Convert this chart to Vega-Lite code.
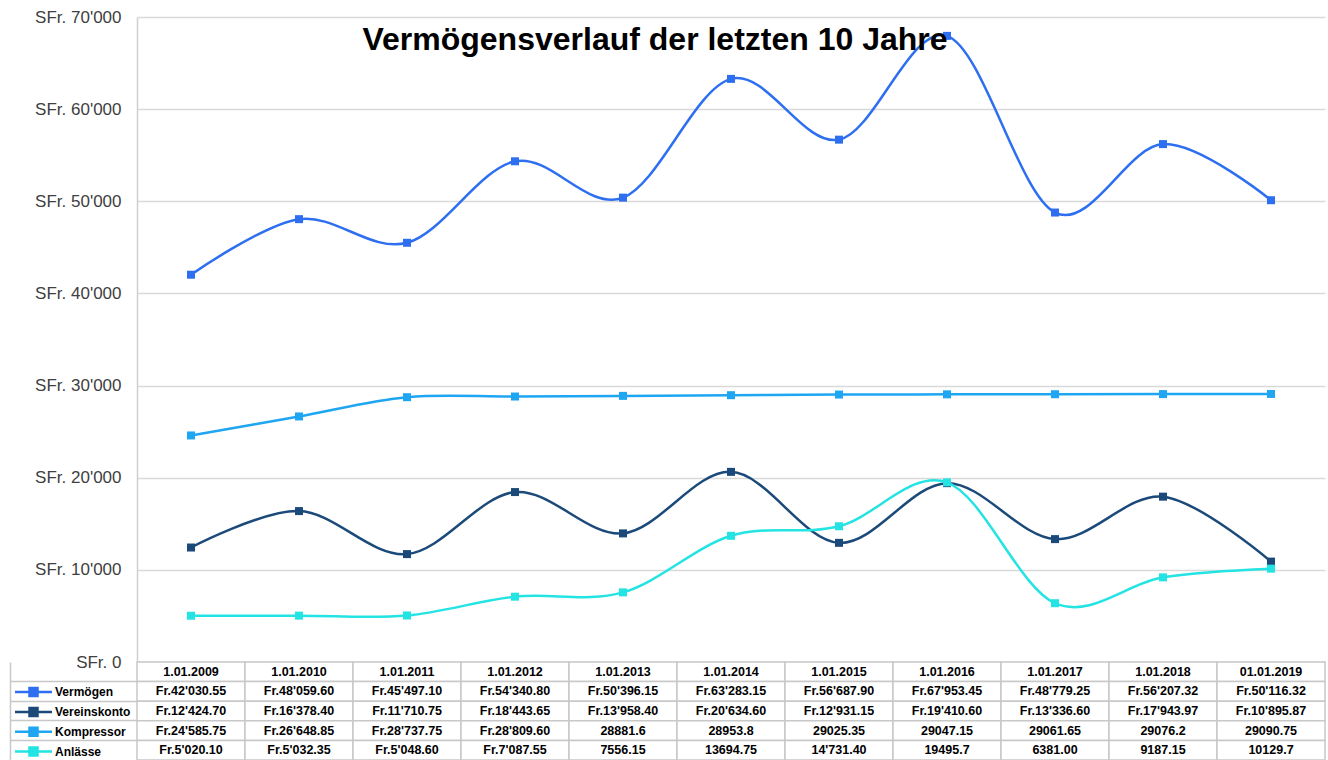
{
  "$schema": "https://vega.github.io/schema/vega-lite/v6.json",
  "padding": {"left": 0, "top": 8, "right": 3, "bottom": 0},
  "spacing": 0,
  "bounds": "flush",
  "config": {
    "font": "Liberation Sans",
    "view": {"stroke": null},
    "locale": {"number": {"decimal": ".", "thousands": "'", "grouping": [3], "currency": ["SFr. ", ""]}}
  },
  "datasets": {
    "d": [
      {"year": "1.01.2009", "series": "Vermögen", "value": 42030.55, "label": "Fr.42'030.55"},
      {"year": "1.01.2010", "series": "Vermögen", "value": 48059.60, "label": "Fr.48'059.60"},
      {"year": "1.01.2011", "series": "Vermögen", "value": 45497.10, "label": "Fr.45'497.10"},
      {"year": "1.01.2012", "series": "Vermögen", "value": 54340.80, "label": "Fr.54'340.80"},
      {"year": "1.01.2013", "series": "Vermögen", "value": 50396.15, "label": "Fr.50'396.15"},
      {"year": "1.01.2014", "series": "Vermögen", "value": 63283.15, "label": "Fr.63'283.15"},
      {"year": "1.01.2015", "series": "Vermögen", "value": 56687.90, "label": "Fr.56'687.90"},
      {"year": "1.01.2016", "series": "Vermögen", "value": 67953.45, "label": "Fr.67'953.45"},
      {"year": "1.01.2017", "series": "Vermögen", "value": 48779.25, "label": "Fr.48'779.25"},
      {"year": "1.01.2018", "series": "Vermögen", "value": 56207.32, "label": "Fr.56'207.32"},
      {"year": "01.01.2019", "series": "Vermögen", "value": 50116.32, "label": "Fr.50'116.32"},
      {"year": "1.01.2009", "series": "Vereinskonto", "value": 12424.70, "label": "Fr.12'424.70"},
      {"year": "1.01.2010", "series": "Vereinskonto", "value": 16378.40, "label": "Fr.16'378.40"},
      {"year": "1.01.2011", "series": "Vereinskonto", "value": 11710.75, "label": "Fr.11'710.75"},
      {"year": "1.01.2012", "series": "Vereinskonto", "value": 18443.65, "label": "Fr.18'443.65"},
      {"year": "1.01.2013", "series": "Vereinskonto", "value": 13958.40, "label": "Fr.13'958.40"},
      {"year": "1.01.2014", "series": "Vereinskonto", "value": 20634.60, "label": "Fr.20'634.60"},
      {"year": "1.01.2015", "series": "Vereinskonto", "value": 12931.15, "label": "Fr.12'931.15"},
      {"year": "1.01.2016", "series": "Vereinskonto", "value": 19410.60, "label": "Fr.19'410.60"},
      {"year": "1.01.2017", "series": "Vereinskonto", "value": 13336.60, "label": "Fr.13'336.60"},
      {"year": "1.01.2018", "series": "Vereinskonto", "value": 17943.97, "label": "Fr.17'943.97"},
      {"year": "01.01.2019", "series": "Vereinskonto", "value": 10895.87, "label": "Fr.10'895.87"},
      {"year": "1.01.2009", "series": "Kompressor", "value": 24585.75, "label": "Fr.24'585.75"},
      {"year": "1.01.2010", "series": "Kompressor", "value": 26648.85, "label": "Fr.26'648.85"},
      {"year": "1.01.2011", "series": "Kompressor", "value": 28737.75, "label": "Fr.28'737.75"},
      {"year": "1.01.2012", "series": "Kompressor", "value": 28809.60, "label": "Fr.28'809.60"},
      {"year": "1.01.2013", "series": "Kompressor", "value": 28881.6, "label": "28881.6"},
      {"year": "1.01.2014", "series": "Kompressor", "value": 28953.8, "label": "28953.8"},
      {"year": "1.01.2015", "series": "Kompressor", "value": 29025.35, "label": "29025.35"},
      {"year": "1.01.2016", "series": "Kompressor", "value": 29047.15, "label": "29047.15"},
      {"year": "1.01.2017", "series": "Kompressor", "value": 29061.65, "label": "29061.65"},
      {"year": "1.01.2018", "series": "Kompressor", "value": 29076.2, "label": "29076.2"},
      {"year": "01.01.2019", "series": "Kompressor", "value": 29090.75, "label": "29090.75"},
      {"year": "1.01.2009", "series": "Anlässe", "value": 5020.10, "label": "Fr.5'020.10"},
      {"year": "1.01.2010", "series": "Anlässe", "value": 5032.35, "label": "Fr.5'032.35"},
      {"year": "1.01.2011", "series": "Anlässe", "value": 5048.60, "label": "Fr.5'048.60"},
      {"year": "1.01.2012", "series": "Anlässe", "value": 7087.55, "label": "Fr.7'087.55"},
      {"year": "1.01.2013", "series": "Anlässe", "value": 7556.15, "label": "7556.15"},
      {"year": "1.01.2014", "series": "Anlässe", "value": 13694.75, "label": "13694.75"},
      {"year": "1.01.2015", "series": "Anlässe", "value": 14731.40, "label": "14'731.40"},
      {"year": "1.01.2016", "series": "Anlässe", "value": 19495.7, "label": "19495.7"},
      {"year": "1.01.2017", "series": "Anlässe", "value": 6381.00, "label": "6381.00"},
      {"year": "1.01.2018", "series": "Anlässe", "value": 9187.15, "label": "9187.15"},
      {"year": "01.01.2019", "series": "Anlässe", "value": 10129.7, "label": "10129.7"}
    ]
  },
  "vconcat": [
    {
      "width": 1188,
      "height": 645,
      "layer": [
        {
          "data": {"name": "d"},
          "encoding": {
            "x": {
              "field": "year",
              "type": "ordinal",
              "scale": {
                "type": "point",
                "padding": 0.5,
                "domain": ["1.01.2009", "1.01.2010", "1.01.2011", "1.01.2012", "1.01.2013", "1.01.2014", "1.01.2015", "1.01.2016", "1.01.2017", "1.01.2018", "01.01.2019"]
              },
              "axis": null
            },
            "y": {
              "field": "value",
              "type": "quantitative",
              "scale": {"domain": [0, 70000], "nice": false},
              "axis": {
                "title": null,
                "values": [0, 10000, 20000, 30000, 40000, 50000, 60000, 70000],
                "format": "$,.0f",
                "labelFontSize": 17,
                "labelFont": "Liberation Sans",
                "labelColor": "#404040",
                "labelPadding": 16,
                "ticks": false,
                "domainColor": "#d0d0d0",
                "domainWidth": 1.5,
                "gridColor": "#d9d9d9",
                "gridWidth": 1.5,
                "minExtent": 137,
                "maxExtent": 137
              }
            },
            "color": {
              "field": "series",
              "type": "nominal",
              "scale": {
                "domain": ["Vermögen", "Vereinskonto", "Kompressor", "Anlässe"],
                "range": ["#2d6ff0", "#1b4a7a", "#1ea6f2", "#24e3e3"]
              },
              "legend": {
                "orient": "none",
                "legendX": -110,
                "legendY": 668.6,
                "title": null,
                "padding": 0,
                "direction": "vertical",
                "symbolType": "M-3.7,0L3.7,0M-0.8,-0.8L0.8,-0.8L0.8,0.8L-0.8,0.8Z",
                "symbolSize": 100,
                "symbolStrokeWidth": 2.5,
                "symbolOpacity": 1,
                "labelOffset": 15,
                "labelFontSize": 12,
                "labelFontWeight": "bold",
                "labelFont": "Liberation Sans",
                "labelColor": "#000000",
                "rowPadding": 0.8,
                "encode": {
                  "symbols": {
                    "update": {
                      "fill": {"scale": "color", "field": "value"},
                      "stroke": {"scale": "color", "field": "value"}
                    }
                  }
                }
              }
            }
          },
          "layer": [
            {"mark": {"type": "line", "interpolate": "cardinal", "strokeWidth": 2.5}},
            {"mark": {"type": "point", "shape": "square", "filled": true, "size": 64, "opacity": 1}}
          ]
        },
        {
          "data": {"values": [{"title": "Vermögensverlauf der letzten 10 Jahre"}]},
          "mark": {"type": "text", "fontSize": 32, "fontWeight": "bold", "font": "Liberation Sans", "color": "#000000", "align": "center", "baseline": "alphabetic", "dx": -76},
          "encoding": {
            "x": {"datum": "1.01.2014", "type": "ordinal"},
            "y": {"datum": 66400, "type": "quantitative"},
            "text": {"field": "title", "type": "nominal"}
          }
        }
      ]
    },
    {
      "width": 1188,
      "height": 98,
      "data": {"name": "d"},
      "encoding": {
        "x": {
          "field": "year",
          "type": "ordinal",
          "scale": {
            "type": "band",
            "paddingInner": 0,
            "paddingOuter": 0,
            "domain": ["1.01.2009", "1.01.2010", "1.01.2011", "1.01.2012", "1.01.2013", "1.01.2014", "1.01.2015", "1.01.2016", "1.01.2017", "1.01.2018", "01.01.2019"]
          },
          "axis": null
        }
      },
      "layer": [
        {
          "transform": [{"filter": "datum.series === 'Vermögen'"}],
          "mark": {"type": "rect", "fill": "#ffffff", "stroke": "#c8c8c8", "strokeWidth": 1.5},
          "encoding": {
            "y": {
              "datum": "hdr",
              "type": "nominal",
              "scale": {"domain": ["hdr", "Vermögen", "Vereinskonto", "Kompressor", "Anlässe"], "paddingInner": 0, "paddingOuter": 0},
              "axis": {"title": null, "labels": false, "domain": true, "domainColor": "#c8c8c8", "domainWidth": 1.5, "offset": 127, "grid": false, "tickSize": -127, "tickWidth": 1.5, "bandPosition": 0, "minExtent": 0, "maxExtent": 0, "tickColor": {"condition": {"test": "datum.value === 'hdr'", "value": "transparent"}, "value": "#c8c8c8"}}
            }
          }
        },
        {
          "mark": {"type": "rect", "fill": "#ffffff", "stroke": "#c8c8c8", "strokeWidth": 1.5},
          "encoding": {
            "y": {
              "field": "series",
              "type": "nominal",
              "axis": {"title": null, "labels": false, "domain": true, "domainColor": "#c8c8c8", "domainWidth": 1.5, "offset": 127, "grid": false, "tickSize": -127, "tickWidth": 1.5, "bandPosition": 0, "minExtent": 0, "maxExtent": 0, "tickColor": {"condition": {"test": "datum.value === 'hdr'", "value": "transparent"}, "value": "#c8c8c8"}}
            }
          }
        },
        {
          "transform": [{"filter": "datum.series === 'Vermögen'"}],
          "mark": {"type": "text", "align": "center", "baseline": "middle", "fontSize": 12.5, "fontWeight": "bold", "font": "Liberation Sans", "color": "#000000"},
          "encoding": {
            "y": {"datum": "hdr", "type": "nominal"},
            "text": {"field": "year"}
          }
        },
        {
          "mark": {"type": "text", "align": "center", "baseline": "middle", "fontSize": 12.5, "fontWeight": "bold", "font": "Liberation Sans", "color": "#000000"},
          "encoding": {
            "y": {"field": "series", "type": "nominal"},
            "text": {"field": "label"}
          }
        }
      ]
    }
  ]
}
